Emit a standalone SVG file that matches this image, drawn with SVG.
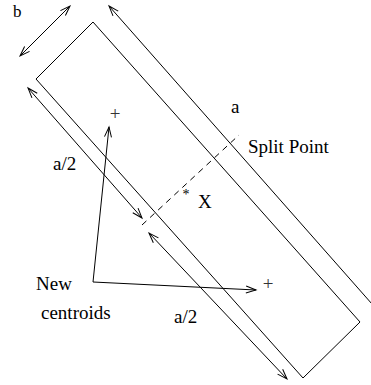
<svg xmlns="http://www.w3.org/2000/svg" width="371" height="385" viewBox="0 0 371 385">
<style>
.ln{fill:none;stroke:#000;stroke-width:1}
.ar{marker-end:url(#ah)}
.ar2{marker-start:url(#ahs);marker-end:url(#ah)}
.t{font-family:"Liberation Serif","Times New Roman",serif;font-size:19px;fill:#000}
.pl{fill:#333}
.dash{fill:none;stroke:#000;stroke-width:1;stroke-dasharray:6 5}
</style>
<defs>
<marker id="ah" markerUnits="userSpaceOnUse" markerWidth="14" markerHeight="10" refX="12" refY="5" orient="auto" overflow="visible">
<path d="M2,1.5 L12,5 L2,8.5" fill="none" stroke="#000" stroke-width="1"/>
</marker>
<marker id="ahs" markerUnits="userSpaceOnUse" markerWidth="14" markerHeight="10" refX="2" refY="5" orient="auto" overflow="visible">
<path d="M12,1.5 L2,5 L12,8.5" fill="none" stroke="#000" stroke-width="1"/>
</marker>
</defs>
<rect width="371" height="385" fill="#fff"/>
<g id="rectangle">
<polygon class="ln" points="93,22 360,322 303,378 36,79"/>
</g>
<g id="connectors">
<line id="dim-b" class="ln ar2" x1="20" y1="56" x2="70" y2="6"/>
<line id="dim-a" class="ln ar" x1="372" y1="304" x2="109" y2="6"/>
<line id="dim-a2-upper" class="ln ar2" x1="28" y1="88" x2="142" y2="218"/>
<line id="dim-a2-lower" class="ln ar2" x1="149" y1="233" x2="287" y2="379"/>
<line id="split-line" class="dash" x1="142" y1="225" x2="239" y2="135"/>
<polyline id="centroid-arrows" class="ln ar2" points="109,127 93,282 256,290"/>
</g>
<g id="labels">
<text class="t" x="13" y="17" style="font-size:17px">b</text>
<text class="t" x="231" y="113">a</text>
<text class="t" x="248" y="153">Split Point</text>
<text class="t" x="53" y="170">a/2</text>
<text class="t" x="198" y="208">X</text>
<text class="t" x="186" y="199" style="font-size:14px" text-anchor="middle">*</text>
<text class="t" x="36" y="290">New</text>
<text class="t" x="41" y="319">centroids</text>
<text class="t" x="174" y="323">a/2</text>
</g>
<g id="centroid-1"><text class="t pl" x="115" y="120" text-anchor="middle">+</text></g>
<g id="centroid-2"><text class="t pl" x="268" y="290" text-anchor="middle">+</text></g>
</svg>
